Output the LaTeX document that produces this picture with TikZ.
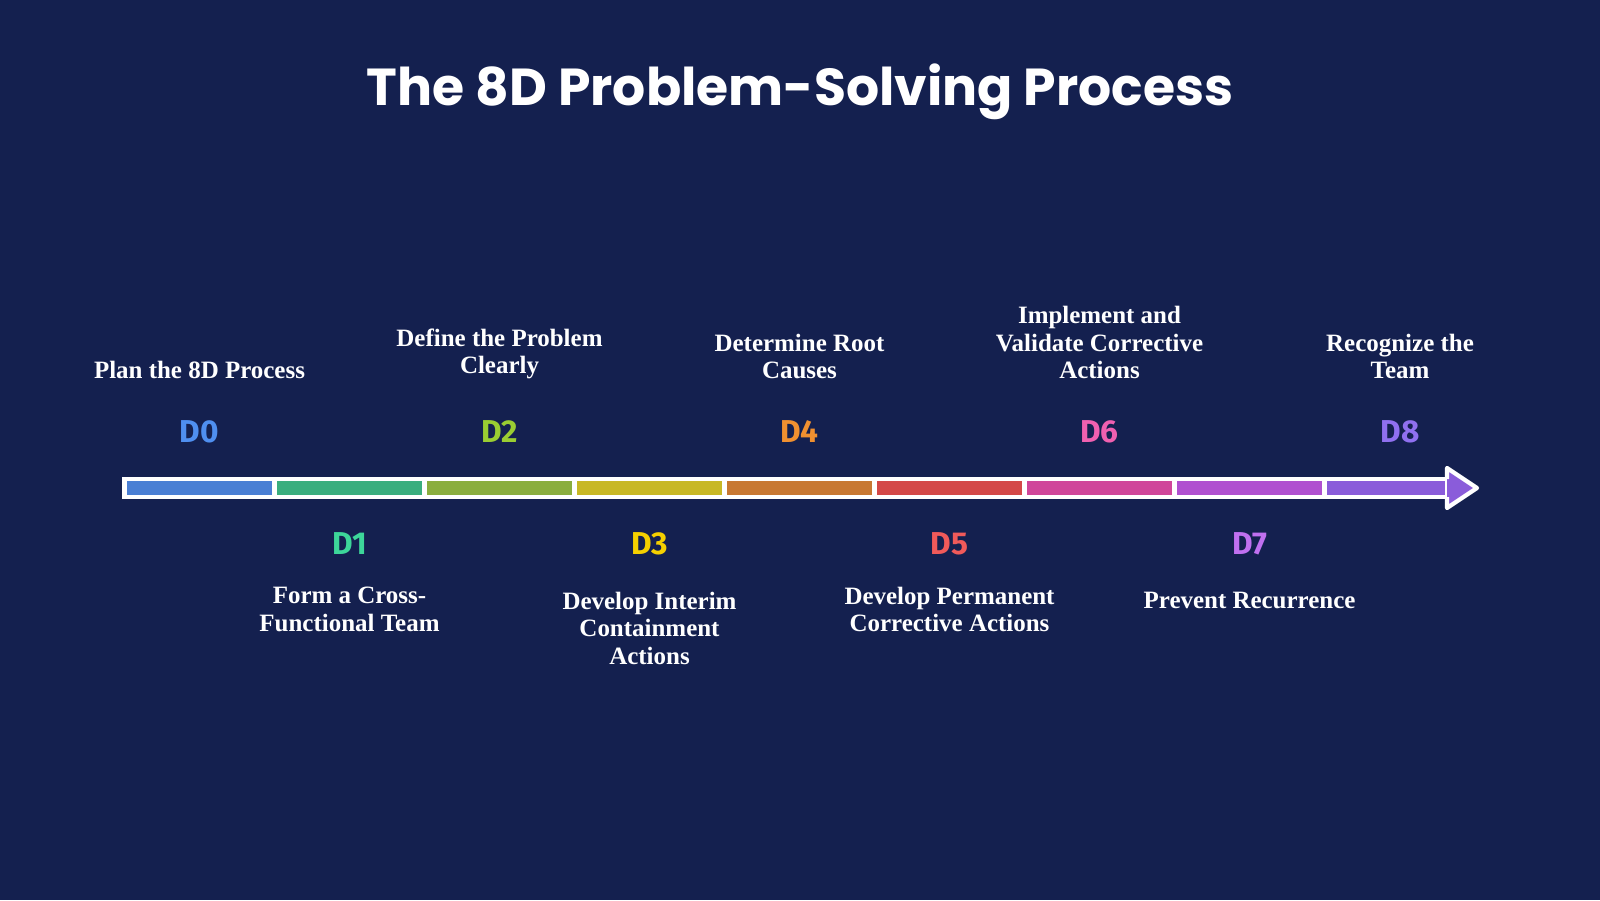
\documentclass[tikz,border=0pt]{standalone}
\usepackage{fontspec}
\setmainfont{Liberation Serif}
\newfontfamily\titlefont{Poppins}
\newfontfamily\stepfont{Fira Sans}
\usetikzlibrary{positioning}
\definecolor{bgblue}{HTML}{14204F}
\definecolor{c0}{HTML}{4A7FD4}\definecolor{t0}{HTML}{4F8FF0}
\definecolor{c1}{HTML}{3AAE7E}\definecolor{t1}{HTML}{3DD69A}
\definecolor{c2}{HTML}{8AAE3E}\definecolor{t2}{HTML}{9ACD32}
\definecolor{c3}{HTML}{C8B825}\definecolor{t3}{HTML}{F5D000}
\definecolor{c4}{HTML}{C87832}\definecolor{t4}{HTML}{F09030}
\definecolor{c5}{HTML}{D44848}\definecolor{t5}{HTML}{F05A5A}
\definecolor{c6}{HTML}{D0469A}\definecolor{t6}{HTML}{F060B0}
\definecolor{c7}{HTML}{B050D0}\definecolor{t7}{HTML}{C070F0}
\definecolor{c8}{HTML}{8A5CDA}\definecolor{t8}{HTML}{9070F0}
\begin{document}
\begin{tikzpicture}[thick,
    seg/.style={draw=white,line width=1.2pt,minimum width=1.5cm,minimum height=0.18cm,inner sep=0pt,outer sep=0pt},
    dlabel/.style={font=\stepfont\bfseries\fontsize{9}{10}\selectfont},
    desc/.style={text=white,align=center,font=\bfseries\fontsize{7.1}{7.8}\selectfont}]
  \fill[bgblue] (0,0) rectangle (16,9);
  \useasboundingbox (0,0) rectangle (16,9);
  \node[text=white,font=\titlefont\bfseries\fontsize{14.8}{17}\selectfont] (title) at (8,8.08) {The 8D Problem-Solving Process};
  % bar segments
  \foreach \i in {0,...,7}
    \node[seg,fill=c\i] (s\i) at (1.995+1.5*\i,4.12) {};
  \node[seg,fill=c8,minimum width=1.225cm] (s8) at (13.8575,4.12) {};
  \fill[c8,draw=white,line width=1.2pt,line join=round] (s8.north east) -- ++(0,0.11)
    -- ++(0.3,-0.2) -- ++(-0.3,-0.2) -- (s8.south east);
  % step labels
  \foreach \i in {0,2,4,6}
    \node[dlabel,text=t\i] (d\i) at ([yshift=0.56cm]s\i.center) {D\i};
  \foreach \i in {1,3,5,7}
    \node[dlabel,text=t\i] (d\i) at ([yshift=-0.56cm]s\i.center) {D\i};
  \node[dlabel,text=t8] (d8) at (14.0,4.68) {D8};
  % descriptions
  \node[desc,anchor=south] at ([yshift=0.4cm]d0.center) {Plan the 8D Process};
  \node[desc,anchor=south] at ([yshift=0.4cm]d2.center) {Define the Problem\\Clearly};
  \node[desc,anchor=south] at ([yshift=0.4cm]d4.center) {Determine Root\\Causes};
  \node[desc,anchor=south] at ([yshift=0.4cm]d6.center) {Implement and\\Validate Corrective\\Actions};
  \node[desc,anchor=south] at ([yshift=0.4cm]d8.center) {Recognize the\\Team};
  \node[desc,anchor=north] at ([yshift=-0.3cm]d1.center) {Form a Cross-\\Functional Team};
  \node[desc,anchor=north] at ([yshift=-0.35cm]d3.center) {Develop Interim\\Containment\\Actions};
  \node[desc,anchor=north] at ([yshift=-0.3cm]d5.center) {Develop Permanent\\Corrective Actions};
  \node[desc,anchor=north] at ([yshift=-0.35cm]d7.center) {Prevent Recurrence};
\end{tikzpicture}
\end{document}
